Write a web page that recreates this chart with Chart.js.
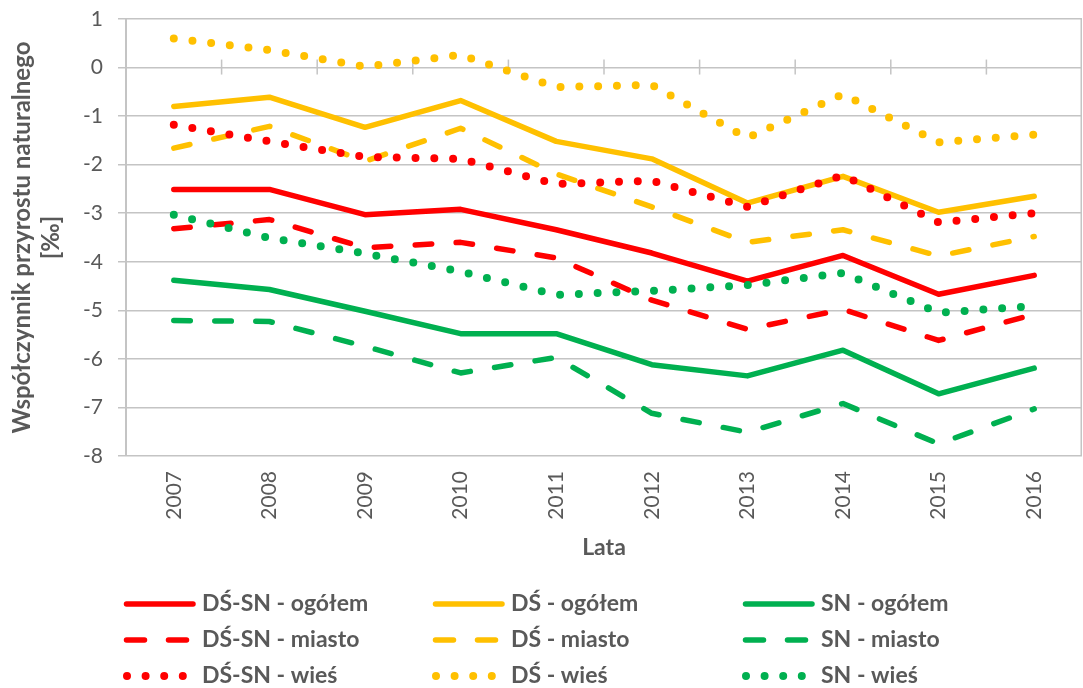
<!DOCTYPE html>
<html>
<head>
<meta charset="utf-8">
<script src="https://cdn.jsdelivr.net/npm/chart.js@4.4.1/dist/chart.umd.min.js"></script>
<style>
html,body{margin:0;padding:0;background:#fff;}
#wrap{position:relative;width:1083px;height:688px;}
</style>
</head>
<body>
<div id="wrap"><canvas id="c" width="1083" height="688"></canvas></div>
<script>
const years = ['2007','2008','2009','2010','2011','2012','2013','2014','2015','2016'];
const yTicks = [1,0,-1,-2,-3,-4,-5,-6,-7,-8];

const dsSnOgolem = [-2.51, -2.51, -3.03, -2.92, -3.34, -3.82, -4.40, -3.87, -4.67, -4.28];
const dsOgolem   = [-0.80, -0.61, -1.23, -0.68, -1.52, -1.88, -2.79, -2.24, -2.98, -2.65];
const snOgolem   = [-4.38, -4.57, -5.02, -5.48, -5.48, -6.12, -6.35, -5.82, -6.72, -6.19];
const dsSnMiasto = [-3.32, -3.13, -3.71, -3.60, -3.92, -4.79, -5.39, -4.98, -5.62, -5.08];
const dsMiasto   = [-1.66, -1.21, -1.93, -1.25, -2.19, -2.87, -3.60, -3.34, -3.88, -3.48];
const snMiasto   = [-5.21, -5.23, -5.74, -6.29, -5.97, -7.12, -7.51, -6.92, -7.75, -7.03];
const dsSnWies   = [-1.18, -1.52, -1.84, -1.88, -2.40, -2.33, -2.87, -2.22, -3.19, -3.00];
const dsWies     = [0.60, 0.36, 0.02, 0.26, -0.40, -0.36, -1.45, -0.55, -1.54, -1.38];
const snWies     = [-3.03, -3.51, -3.83, -4.20, -4.68, -4.60, -4.48, -4.23, -5.05, -4.91];

const seriesNames = ['DŚ-SN - ogółem','DŚ - ogółem','SN - ogółem',
                     'DŚ-SN - miasto','DŚ - miasto','SN - miasto',
                     'DŚ-SN - wieś','DŚ - wieś','SN - wieś'];
const seriesData = [dsSnOgolem, dsOgolem, snOgolem, dsSnMiasto, dsMiasto, snMiasto, dsSnWies, dsWies, snWies];
const RED = '#FF0000', ORANGE = '#FFC000', GREEN = '#00B050';
const seriesColors = [RED, ORANGE, GREEN, RED, ORANGE, GREEN, RED, ORANGE, GREEN];
const seriesKind = ['solid','solid','solid','dash','dash','dash','dot','dot','dot'];

const TEXT = '#595959';
const GRID = '#c4c4c4';
const FONT = 'Lato';

function styleFor(kind){
  if (kind === 'solid') return {borderWidth:5.5, borderDash:[], borderCapStyle:'round'};
  if (kind === 'dash') return {borderWidth:5.5, borderDash:[16.5,24.5], borderCapStyle:'round'};
  return {borderWidth:8, borderDash:[0,18.8], borderCapStyle:'round'};
}

const datasets = seriesNames.map((name,i)=>Object.assign({
  label: name,
  data: seriesData[i],
  borderColor: seriesColors[i],
  backgroundColor: seriesColors[i],
  pointRadius: 0,
  pointHoverRadius: 0,
  tension: 0,
  fill: false,
  borderJoinStyle: 'round',
  order: seriesNames.length - i
}, styleFor(seriesKind[i])));

const extras = {
  id: 'extras',
  beforeDatasetsDraw(chart){
    const {ctx, chartArea, scales:{x, y}} = chart;
    ctx.save();
    ctx.strokeStyle = GRID;
    ctx.lineWidth = 1.5;
    ctx.beginPath();
    ctx.moveTo(chartArea.right - 0.75, chartArea.top);
    ctx.lineTo(chartArea.right - 0.75, chartArea.bottom);
    ctx.stroke();
    const y0 = y.getPixelForValue(0);
    for (let i = 0; i < years.length - 1; i++){
      const xb = (x.getPixelForValue(i) + x.getPixelForValue(i+1)) / 2;
      ctx.beginPath();
      ctx.moveTo(xb, y0 - 8);
      ctx.lineTo(xb, y0 + 7);
      ctx.stroke();
    }
    ctx.restore();
  },
  afterDraw(chart){
    const ctx = chart.ctx;
    const colX = [124, 433, 743];
    const rowY = [604, 640, 676];
    ctx.save();
    chart.data.datasets.forEach((ds, i) => {
      const col = i % 3, row = Math.floor(i / 3);
      const x0 = colX[col], yy = rowY[row];
      ctx.strokeStyle = ds.borderColor;
      ctx.lineCap = 'round';
      const kind = seriesKind[i];
      ctx.beginPath();
      if (kind === 'solid'){
        ctx.lineWidth = 5.5; ctx.setLineDash([]);
        ctx.moveTo(x0 + 2.5, yy); ctx.lineTo(x0 + 69, yy);
      } else if (kind === 'dash'){
        ctx.lineWidth = 5.5; ctx.setLineDash([18, 24]);
        ctx.moveTo(x0 + 2.5, yy); ctx.lineTo(x0 + 69, yy);
      } else {
        ctx.lineWidth = 8; ctx.setLineDash([0, 18.6]);
        ctx.moveTo(x0 + 3, yy); ctx.lineTo(x0 + 62, yy);
      }
      ctx.stroke();
      ctx.setLineDash([]);
      ctx.fillStyle = TEXT;
      ctx.font = 'bold 23px ' + FONT;
      ctx.textBaseline = 'middle';
      ctx.textAlign = 'left';
      ctx.fillText(ds.label, x0 + 78, yy);
    });
    ctx.restore();
  }
};

new Chart(document.getElementById('c'), {
  type: 'line',
  data: { labels: years, datasets },
  options: {
    responsive: false,
    animation: false,
    events: [],
    layout: { padding: { left: 0, right: 1, top: 19, bottom: 120 } },
    plugins: { legend: { display: false }, tooltip: { enabled: false } },
    scales: {
      x: {
        type: 'category',
        offset: true,
        grid: { display: false, drawTicks: false },
        border: { display: false },
        ticks: {
          autoSkip: false, minRotation: 90, maxRotation: 90, padding: 15,
          color: TEXT, font: { family: FONT, size: 21 }
        },
        title: {
          display: true, text: 'Lata', color: TEXT,
          font: { family: FONT, size: 23, weight: 'bold' },
          padding: { top: 0, bottom: 7 }
        },
        afterFit(scale){ scale.height = 112; }
      },
      y: {
        min: -8, max: 1,
        afterBuildTicks(scale){ scale.ticks = yTicks.slice().reverse().map(v => ({value: v})); },
        grid: { color: GRID, lineWidth: 1.5, tickLength: 8, drawTicks: true },
        border: { display: true, color: GRID, width: 2 },
        ticks: {
          padding: 15, color: TEXT, font: { family: FONT, size: 21 },
          callback: v => String(v)
        },
        title: {
          display: true,
          text: ['Współczynnik przyrostu naturalnego', '[‰]'],
          color: TEXT,
          font: { family: FONT, size: 24, weight: 'bold' },
          padding: { top: 8, bottom: 0 }
        },
        afterFit(scale){ scale.width = 126; scale.paddingTop = 0; scale.paddingBottom = 0; }
      }
    }
  },
  plugins: [extras]
});
</script>
</body>
</html>
